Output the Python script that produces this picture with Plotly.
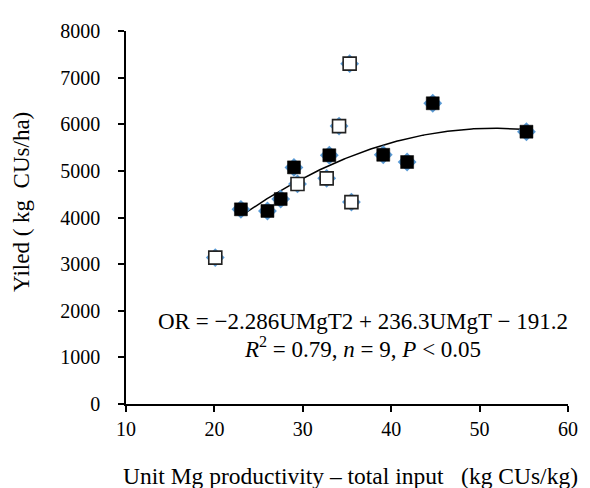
import numpy as np
import plotly.graph_objects as go

# Filled squares (data used for the regression, n = 9)
fit_x = [23.0, 26.0, 27.5, 29.0, 33.0, 39.1, 41.8, 44.7, 55.3]
fit_y = [4175, 4140, 4395, 5075, 5335, 5345, 5190, 6450, 5840]

# Open squares
other_x = [20.1, 29.4, 32.7, 34.1, 35.3, 35.5]
other_y = [3140, 4720, 4840, 5960, 7300, 4330]

# Quadratic regression coefficients as printed on the chart
coef = [-2.286, 236.3, -191.2]

x_ticks = [10, 20, 30, 40, 50, 60]
y_ticks = [0, 1000, 2000, 3000, 4000, 5000, 6000, 7000, 8000]

FONT = "Liberation Serif"
BLUE = "#5B9BD5"

# plot area in pixels (for placing the free texts)
L, R, T, B = 126, 576, 31, 404
PW, PH = R - L, B - T

curve_x = np.linspace(min(fit_x), max(fit_x), 200)
curve_y = np.polyval(coef, curve_x)

fig = go.Figure()

fig.add_trace(go.Scatter(
    x=curve_x, y=curve_y, mode="lines",
    line=dict(color="black", width=1.5), hoverinfo="skip", showlegend=False))

# blue handle tips behind the squares
fig.add_trace(go.Scatter(
    x=other_x + fit_x, y=other_y + fit_y, mode="markers",
    marker=dict(symbol="diamond", size=14.5, color=BLUE, line=dict(width=0)),
    showlegend=False, hoverinfo="skip"))

fig.add_trace(go.Scatter(
    x=other_x, y=other_y, mode="markers",
    marker=dict(symbol="square", size=13, color="white",
                line=dict(color="#222222", width=1.6)),
    showlegend=False))

fig.add_trace(go.Scatter(
    x=fit_x, y=fit_y, mode="markers",
    marker=dict(symbol="square", size=13, color="black",
                line=dict(color="black", width=0.5)),
    showlegend=False))

fig.add_annotation(
    x=36.8, y=1760, xref="x", yref="y", showarrow=False,
    text="OR = \u22122.286UMgT2 + 236.3UMgT \u2212 191.2",
    font=dict(family=FONT, size=23, color="black"), xanchor="center", yanchor="middle")
fig.add_annotation(
    x=36.7, y=1220, xref="x", yref="y", showarrow=False,
    text="<i>R</i><sup>2</sup> = 0.79, <i>n</i> = 9, <i>P</i> &lt; 0.05",
    font=dict(family=FONT, size=23, color="black"), xanchor="center", yanchor="middle")

# y-axis title
fig.add_annotation(
    x=(19 - L) / PW, y=(B - 202) / PH, xref="paper", yref="paper", showarrow=False,
    text="Yiled ( kg  CUs/ha)", textangle=-90,
    xanchor="center", yanchor="middle",
    font=dict(family=FONT, size=23, color="black"))

# x-axis title
fig.add_annotation(
    x=(355 - L) / PW, y=(B - 476) / PH, xref="paper", yref="paper", showarrow=False,
    text="Unit Mg productivity \u2013 total input \u00a0\u00a0(kg CUs/kg)",
    xanchor="center", yanchor="middle",
    font=dict(family=FONT, size=23.5, color="black"))

fig.update_layout(
    width=590, height=488,
    margin=dict(l=L, r=590 - R, t=T, b=488 - B),
    paper_bgcolor="white", plot_bgcolor="white",
    font=dict(family=FONT, size=20, color="black"),
    showlegend=False,
    xaxis=dict(
        range=[10, 60], tickvals=x_ticks, ticktext=[str(v) for v in x_ticks],
        showgrid=False, zeroline=False, showline=True, linecolor="black", linewidth=1.5,
        ticks="outside", ticklen=6, tickwidth=1.5, tickcolor="black",
        tickfont=dict(family=FONT, size=20, color="black"),
    ),
    yaxis=dict(
        range=[0, 8000], tickvals=y_ticks, ticktext=[str(v) for v in y_ticks],
        showgrid=False, zeroline=False, showline=True, linecolor="black", linewidth=1.5,
        ticks="outside", ticklen=6, tickwidth=1.5, tickcolor="black",
        tickfont=dict(family=FONT, size=20, color="black"),
        ticklabelstandoff=14,
    ),
)

fig.write_html("out.html")
